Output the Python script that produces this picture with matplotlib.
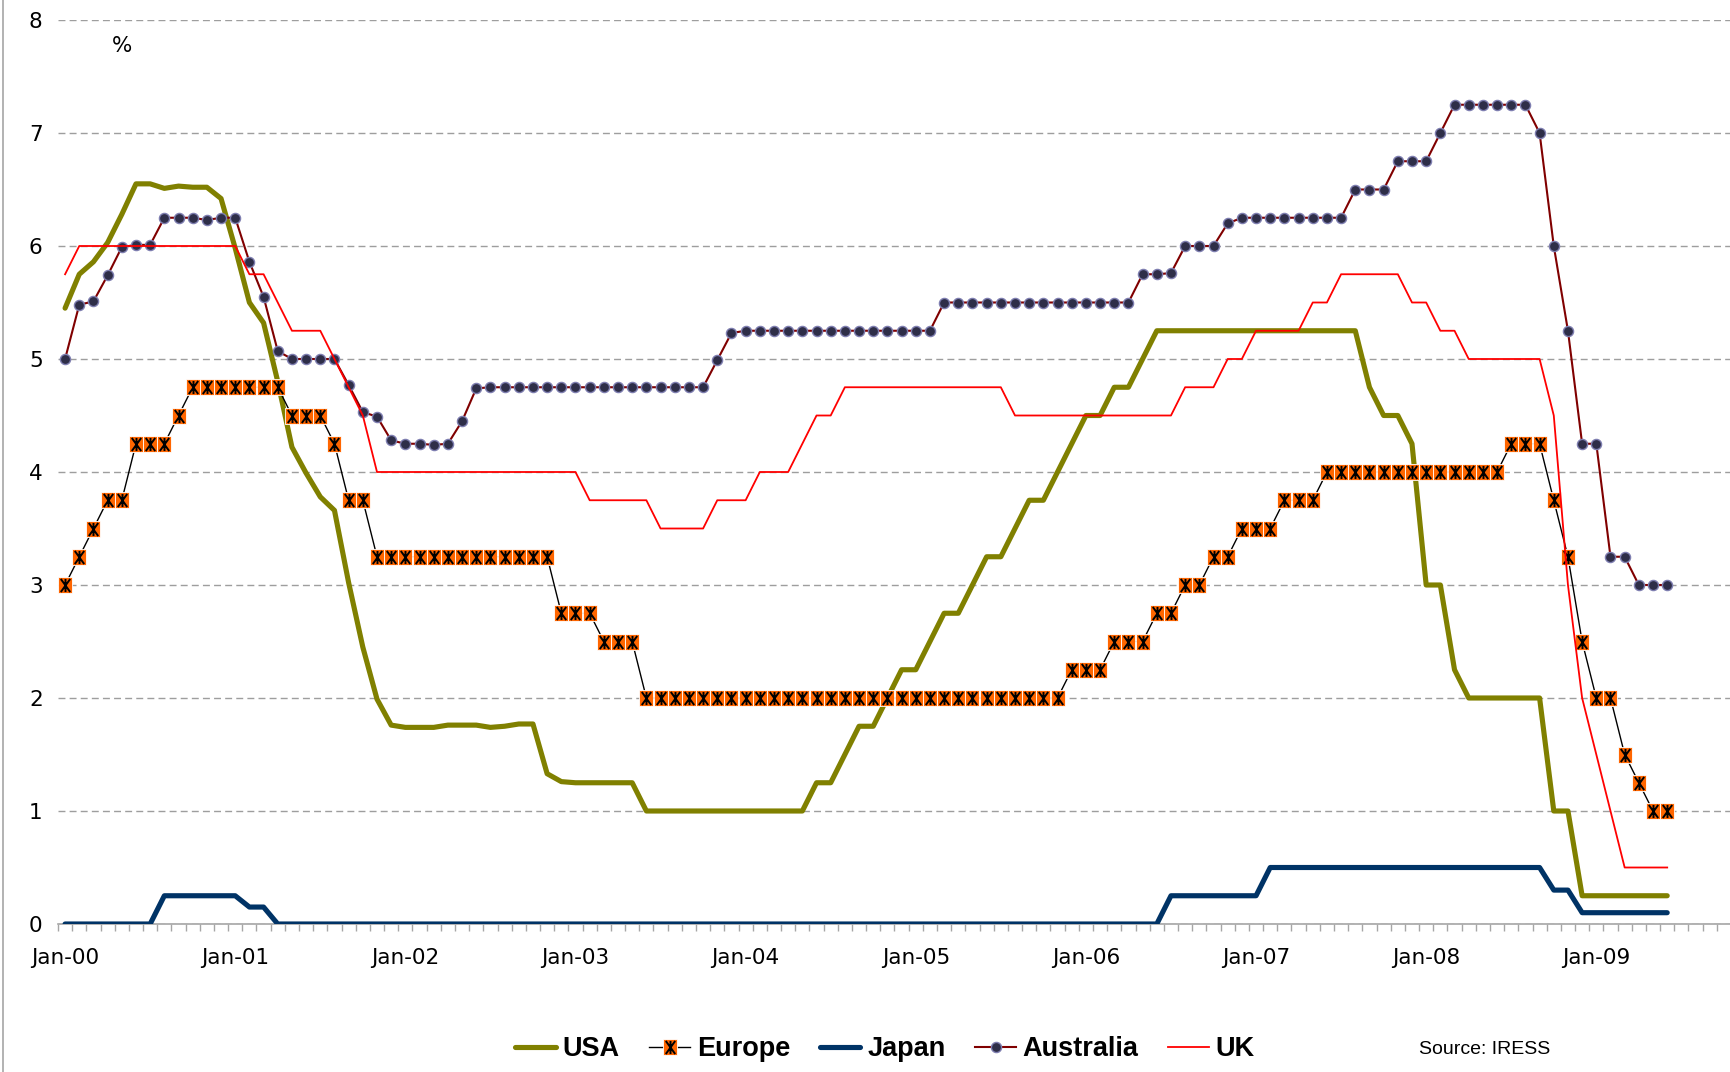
import matplotlib
matplotlib.use('Agg')
import matplotlib.pyplot as plt
import numpy as np
from matplotlib.path import Path
from matplotlib.lines import Line2D

plt.rcParams['font.family'] = ['DejaVu Sans']

# monthly policy rates, Jan-2000 .. Jun-2009 (114 months)
usa = ([5.45, 5.75, 5.86, 6.03, 6.28, 6.55, 6.55, 6.51, 6.53, 6.52, 6.52, 6.42]
       + [5.98, 5.50, 5.32, 4.80, 4.22, 3.99, 3.78, 3.66, 3.02, 2.45, 1.99, 1.76]
       + [1.74, 1.74, 1.74, 1.76, 1.76, 1.76, 1.74, 1.75, 1.77, 1.77, 1.33, 1.26]
       + [1.25] * 5 + [1.0] * 7
       + [1.0] * 5 + [1.25, 1.25, 1.5, 1.75, 1.75, 2.0, 2.25]
       + [2.25, 2.5, 2.75, 2.75, 3.0, 3.25, 3.25, 3.5, 3.75, 3.75, 4.0, 4.25]
       + [4.5, 4.5, 4.75, 4.75, 5.0] + [5.25] * 7
       + [5.25] * 8 + [4.75, 4.5, 4.5, 4.25]
       + [3.0, 3.0, 2.25, 2.0, 2.0, 2.0, 2.0, 2.0, 2.0, 1.0, 1.0, 0.25]
       + [0.25] * 6)

europe = ([3.0, 3.25, 3.5, 3.75, 3.75, 4.25, 4.25, 4.25, 4.5, 4.75, 4.75, 4.75]
          + [4.75, 4.75, 4.75, 4.75, 4.5, 4.5, 4.5, 4.25, 3.75, 3.75, 3.25, 3.25]
          + [3.25] * 11 + [2.75]
          + [2.75, 2.75, 2.5, 2.5, 2.5] + [2.0] * 7
          + [2.0] * 12
          + [2.0] * 11 + [2.25]
          + [2.25, 2.25, 2.5, 2.5, 2.5, 2.75, 2.75, 3.0, 3.0, 3.25, 3.25, 3.5]
          + [3.5, 3.5, 3.75, 3.75, 3.75] + [4.0] * 7
          + [4.0] * 6 + [4.25, 4.25, 4.25, 3.75, 3.25, 2.5]
          + [2.0, 2.0, 1.5, 1.25, 1.0, 1.0])

japan = ([0.0] * 7 + [0.25] * 5
         + [0.25, 0.15, 0.15] + [0.0] * 9
         + [0.0] * 48
         + [0.0] * 6 + [0.25] * 6
         + [0.25] + [0.5] * 11
         + [0.5] * 9 + [0.3, 0.3, 0.1]
         + [0.1] * 6)

australia = ([5.0, 5.48, 5.51, 5.74, 5.99, 6.01, 6.01, 6.25, 6.25, 6.25, 6.23, 6.25]
             + [6.25, 5.86, 5.55, 5.07, 5.0, 5.0, 5.0, 5.0, 4.77, 4.53, 4.49, 4.28]
             + [4.25, 4.25, 4.24, 4.25, 4.45, 4.74] + [4.75] * 6
             + [4.75] * 10 + [4.99, 5.23]
             + [5.25] * 12
             + [5.25, 5.25] + [5.5] * 10
             + [5.5] * 4 + [5.75, 5.75, 5.76, 6.0, 6.0, 6.0, 6.2, 6.25]
             + [6.25] * 7 + [6.5, 6.5, 6.5, 6.75, 6.75]
             + [6.75, 7.0, 7.25, 7.25, 7.25, 7.25, 7.25, 7.25, 7.0, 6.0, 5.25, 4.25]
             + [4.25, 3.25, 3.25, 3.0, 3.0, 3.0])

uk = ([5.75] + [6.0] * 11
      + [6.0, 5.75, 5.75, 5.5, 5.25, 5.25, 5.25, 5.0, 4.75, 4.5, 4.0, 4.0]
      + [4.0] * 12
      + [4.0, 3.75, 3.75, 3.75, 3.75, 3.75, 3.5, 3.5, 3.5, 3.5, 3.75, 3.75]
      + [3.75, 4.0, 4.0, 4.0, 4.25, 4.5, 4.5, 4.75, 4.75, 4.75, 4.75, 4.75]
      + [4.75] * 7 + [4.5] * 5
      + [4.5] * 7 + [4.75, 4.75, 4.75, 5.0, 5.0]
      + [5.25] * 4 + [5.5, 5.5] + [5.75] * 5 + [5.5]
      + [5.5, 5.25, 5.25, 5.0, 5.0, 5.0, 5.0, 5.0, 5.0, 4.5, 3.0, 2.0]
      + [1.5, 1.0, 0.5, 0.5, 0.5, 0.5])

year_labels = ['Jan-00', 'Jan-01', 'Jan-02', 'Jan-03', 'Jan-04',
               'Jan-05', 'Jan-06', 'Jan-07', 'Jan-08', 'Jan-09']

x = np.arange(len(usa))

W, H = 1731, 1072
fig = plt.figure(figsize=(W / 100, H / 100), dpi=100)
ax = fig.add_axes([58 / W, (H - 924) / H, 1 - 58 / W, (924 - 20) / H])

# excel style markers: slightly tall orange box with a star (x plus vertical bar)
box = Path([(-0.87, -1), (0.87, -1), (0.87, 1), (-0.87, 1), (-0.87, -1)],
           [Path.MOVETO, Path.LINETO, Path.LINETO, Path.LINETO, Path.CLOSEPOLY])
star = Path([(-0.72, -1), (0.72, 1), (-0.72, 1), (0.72, -1), (0, -1), (0, 1)],
            [Path.MOVETO, Path.LINETO] * 3)

l_usa, = ax.plot(x, usa, color='#808000', lw=3.7, solid_joinstyle='round',
                 solid_capstyle='round', zorder=3)
l_eu, = ax.plot(x, europe, color='black', lw=1.0, zorder=4)
m_eu1, = ax.plot(x, europe, ls='none', marker=box, ms=11.4, mfc='#ff6600',
                 mec='white', mew=0.6, zorder=4.1)
m_eu2, = ax.plot(x, europe, ls='none', marker=star, ms=9.4, mec='black',
                 fillstyle='none', mew=1.4, zorder=4.2)
l_jp, = ax.plot(x, japan, color='#003366', lw=3.7, solid_joinstyle='round',
                solid_capstyle='round', zorder=5)
l_au, = ax.plot(x, australia, color='#800000', lw=1.5, marker='o', ms=7.3,
                mfc='#2e2e48', mec='#7e7eb0', mew=1.0, zorder=6)
l_uk, = ax.plot(x, uk, color='#ff0000', lw=1.3, zorder=7)

ax.set_xlim(-0.5, (W - 66) / 14.26)
ax.set_ylim(0, 8)
ax.set_yticks(range(0, 9))
ax.set_xticks(np.arange(0, 109, 12))
ax.set_xticklabels(year_labels)
ax.set_xticks(np.arange(-0.5, 118, 1), minor=True)

ax.yaxis.grid(True, linestyle=(0, (5, 3)), color='#9e9e9e', lw=1.0)
ax.set_axisbelow(True)
for s in ['top', 'right', 'left']:
    ax.spines[s].set_visible(False)
ax.spines['bottom'].set_color('#a6a6a6')
ax.spines['bottom'].set_linewidth(1.2)

ax.tick_params(axis='y', length=0, pad=11, labelsize=15.5)
ax.tick_params(axis='x', which='major', length=0, pad=17, labelsize=15.5)
ax.tick_params(axis='x', which='minor', length=5, width=1, color='#a6a6a6')

fig.text(122 / W, 1 - 46 / H, '%', ha='center', va='center', fontsize=15.5)

# chart border on the left
fig.add_artist(Line2D([3.5 / W, 3.5 / W], [0, 1], transform=fig.transFigure,
                      color='#a6a6a6', lw=1.2))

handles = [l_usa, (l_eu, m_eu1, m_eu2), l_jp, l_au, l_uk]
labels = ['USA', 'Europe', 'Japan', 'Australia', 'UK']
fig.legend(handles, labels, loc='center', bbox_to_anchor=(885 / W, 1 - 1049 / H),
           ncol=5, frameon=False, numpoints=1, handlelength=1.5,
           handletextpad=0.25, columnspacing=1.1,
           prop={'family': 'Liberation Sans', 'weight': 'bold', 'size': 19.5})

fig.text(1419 / W, 1 - 1049 / H, 'Source: IRESS', ha='left', va='center',
         fontsize=14, family='Liberation Sans')

fig.savefig('out.png', dpi=100)
